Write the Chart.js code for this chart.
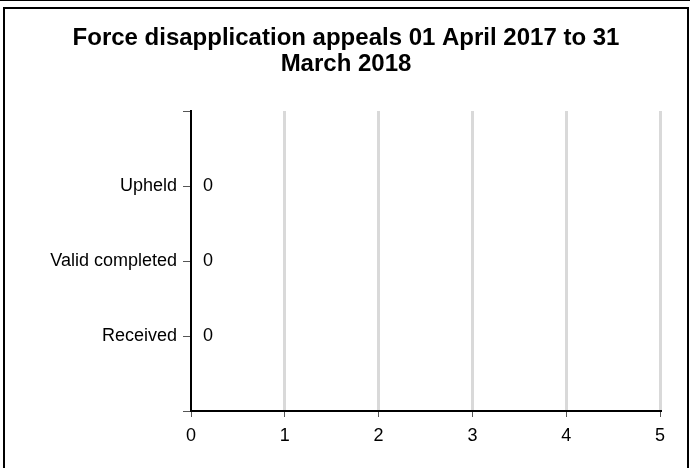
<!DOCTYPE html>
<html>
<head>
<meta charset="utf-8">
<script src="https://cdn.jsdelivr.net/npm/chart.js@4/dist/chart.umd.min.js"></script>
<style>
  html, body { margin: 0; padding: 0; background: #fff; }
  body { width: 690px; height: 468px; overflow: hidden; position: relative; border-top: 1px solid #000; box-sizing: border-box; }
  .frame { position: absolute; left: 3px; top: 6px; width: 682px; height: 480px; border: 2px solid #000; }
  .chart-container { position: absolute; left: 0; top: 0; width: 690px; height: 468px; }
</style>
</head>
<body>
<div class="frame"></div>
<div class="chart-container">
  <canvas id="appeals-canvas" width="690" height="468"></canvas>
</div>
<script>
const titleLines = ['Force disapplication appeals 01 April 2017 to 31', 'March 2018'];
// blank entries at both ends give the empty space above and below the bars
const categories = ['', 'Upheld', 'Valid completed', 'Received', ''];
const appealCounts = [null, 0, 0, 0, null];
const xTicks = [0, 1, 2, 3, 4, 5];

const FONT = '"Liberation Sans", Arial, sans-serif';

// draws the value next to the end of each bar
const valueLabels = {
  id: 'valueLabels',
  afterDatasetsDraw(chart) {
    const ctx = chart.ctx;
    const meta = chart.getDatasetMeta(0);
    ctx.save();
    ctx.font = `18px ${FONT}`;
    ctx.fillStyle = '#000';
    ctx.textAlign = 'left';
    ctx.textBaseline = 'middle';
    meta.data.forEach((bar, i) => {
      const v = appealCounts[i];
      if (v == null) return;
      ctx.fillText(String(v), bar.x + 12, bar.y);
    });
    ctx.restore();
  }
};

const ctx = document.getElementById('appeals-canvas').getContext('2d');
new Chart(ctx, {
  type: 'bar',
  data: {
    labels: categories,
    datasets: [{
      label: 'Appeals',
      data: appealCounts,
      backgroundColor: '#4472c4',
      borderWidth: 0
    }]
  },
  options: {
    indexAxis: 'y',
    responsive: false,
    animation: false,
    // left/right padding nearly equal so the title stays centred on the page
    layout: { padding: { left: 32, right: 30, top: 0, bottom: 0 } },
    plugins: {
      legend: { display: false },
      tooltip: { enabled: false },
      title: {
        display: true,
        text: titleLines,
        color: '#000',
        font: { family: FONT, size: 24, weight: 'bold', lineHeight: '26px' },
        padding: { top: 24, bottom: 34 }
      }
    },
    scales: {
      x: {
        min: xTicks[0],
        max: xTicks[xTicks.length - 1],
        afterBuildTicks: (scale) => { scale.ticks = xTicks.map(v => ({ value: v })); },
        afterFit: (scale) => { scale.height = 58; },
        border: { display: true, color: '#000', width: 2 },
        grid: {
          color: (c) => c.tick && c.tick.value === 0 ? 'rgba(0,0,0,0)' : '#d9d9d9',
          lineWidth: 3,
          drawTicks: true,
          tickLength: 6,
          tickColor: '#555',
          tickWidth: 1
        },
        ticks: { color: '#000', font: { family: FONT, size: 18 }, padding: 8 }
      },
      y: {
        offset: false,
        afterFit: (scale) => { scale.width = 159; },
        border: { display: true, color: '#000', width: 2 },
        grid: {
          offset: false,
          drawOnChartArea: false,
          drawTicks: true,
          tickLength: 8,
          tickColor: '#555',
          tickWidth: 1
        },
        ticks: { color: '#000', font: { family: FONT, size: 18 }, padding: 6, autoSkip: false }
      }
    }
  },
  plugins: [valueLabels]
});
</script>
</body>
</html>
